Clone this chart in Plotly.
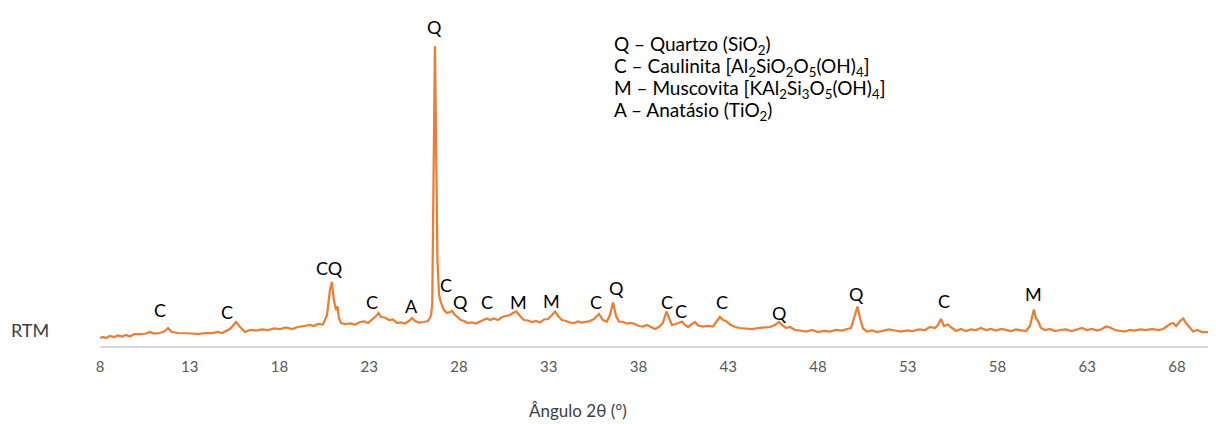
import plotly.graph_objects as go

# Diffraction pattern (2theta in degrees, relative intensity)
two_theta = [8.0, 8.17, 8.33, 8.56, 8.78, 9.0, 9.23, 9.45, 9.67, 9.9, 10.23, 10.56, 10.79, 11.0, 11.34,
             11.57, 11.79, 12.0, 12.35, 12.74, 13.13, 13.46, 13.85, 14.24, 14.57, 14.8, 15.02, 15.24,
             15.58, 15.8, 16.08, 16.36, 16.69, 17.03, 17.36, 17.7, 18.03, 18.36, 18.7, 19.03, 19.37,
             19.7, 19.92, 20.14, 20.42, 20.65, 20.81, 20.92, 21.03, 21.15, 21.23, 21.31, 21.43, 21.65,
             21.93, 22.21, 22.49, 22.71, 22.93, 23.15, 23.38, 23.52, 23.65, 23.88, 24.1, 24.32, 24.55,
             24.77, 24.99, 25.21, 25.38, 25.55, 25.77, 26.05, 26.27, 26.44, 26.51, 26.6, 26.66, 26.71,
             26.8, 26.89, 27.0, 27.16, 27.33, 27.5, 27.61, 27.78, 27.94, 28.11, 28.28, 28.5, 28.72,
             28.95, 29.17, 29.39, 29.56, 29.73, 29.95, 30.17, 30.4, 30.62, 30.84, 31.01, 31.2, 31.4,
             31.62, 31.84, 32.07, 32.29, 32.51, 32.74, 32.96, 33.18, 33.35, 33.52, 33.74, 33.96, 34.18,
             34.41, 34.63, 34.85, 35.07, 35.3, 35.52, 35.8, 36.02, 36.24, 36.41, 36.58, 36.75, 36.91,
             37.14, 37.36, 37.58, 37.8, 38.03, 38.25, 38.47, 38.7, 38.92, 39.14, 39.36, 39.56, 39.7,
             39.86, 40.09, 40.26, 40.42, 40.59, 40.76, 40.98, 41.15, 41.32, 41.59, 41.87, 42.15, 42.37,
             42.54, 42.71, 42.87, 43.1, 43.38, 43.65, 43.99, 44.32, 44.66, 44.99, 45.33, 45.6, 45.83,
             45.99, 46.22, 46.44, 46.72, 47.0, 47.33, 47.67, 48.0, 48.33, 48.67, 49.0, 49.34, 49.62,
             49.84, 50.01, 50.2, 50.34, 50.51, 50.73, 51.01, 51.29, 51.62, 51.96, 52.29, 52.62, 52.96,
             53.29, 53.63, 53.96, 54.24, 54.52, 54.69, 54.85, 55.02, 55.24, 55.47, 55.69, 55.97, 56.24,
             56.52, 56.8, 57.08, 57.36, 57.64, 57.92, 58.2, 58.47, 58.75, 59.03, 59.31, 59.59, 59.81,
             59.92, 60.03, 60.14, 60.26, 60.42, 60.65, 60.92, 61.2, 61.48, 61.81, 62.15, 62.48, 62.71,
             62.99, 63.27, 63.55, 63.82, 64.05, 64.27, 64.55, 64.83, 65.1, 65.38, 65.66, 65.94, 66.28,
             66.61, 66.95, 67.23, 67.45, 67.62, 67.79, 67.95, 68.18, 68.35, 68.5, 68.67, 68.9, 69.12,
             69.4, 69.73, 70.12]

intensity = [8, 9, 8, 10, 9, 10.5, 9.5, 11, 9.5, 12, 12, 12.5, 14, 12.5, 13,
             14.5, 18, 14, 13, 13, 12.5, 12, 13, 13, 14, 13, 15, 17,
             24, 19, 14, 16, 15.5, 16.5, 16, 17.5, 17, 18.5, 17, 19, 20,
             21, 20, 22, 21.5, 31, 56, 64, 46, 36, 39.5, 28, 23, 22,
             22.5, 21.5, 24, 24.5, 23, 26, 30, 33, 29, 28.5, 26, 26.5, 23,
             23.5, 22.5, 25, 28, 25, 23.5, 24, 25, 30, 41, 196, 300, 226,
             86, 51, 43, 36, 33, 34, 35, 31, 29, 26, 25, 23, 23.5,
             22.5, 24.5, 26, 27.5, 26, 27.5, 26, 29, 30, 31, 33, 34.5, 30,
             26, 25.5, 24, 25, 23.5, 26.5, 27, 31, 34.5, 30, 26, 25, 23.5,
             23, 24.5, 23.5, 24, 25, 27, 32, 26, 24.5, 31, 43.5, 30, 24.5,
             24, 22.5, 23, 22, 20, 19.5, 21, 19, 17, 19, 23, 34.5, 28,
             21, 22, 23, 24.5, 21, 19, 22, 24, 20.5, 19.5, 20, 19.5, 25,
             29, 26, 25, 21.5, 19, 18, 17.5, 17, 18, 18.5, 19, 21, 24,
             21, 18, 19, 16, 15.5, 14.5, 16, 14, 15, 14.5, 16, 15.5, 17,
             18, 28, 39.5, 28, 17.5, 14.5, 15.5, 14, 15, 16.5, 15.5, 14.5, 15.5,
             15, 16.5, 16, 19, 18, 21, 27, 20, 21.5, 18, 15, 17, 15,
             16.5, 16, 18, 16, 17, 15.5, 17, 16, 15, 16.5, 15.5, 15, 20,
             28, 36.5, 28, 25, 18, 16, 17, 15, 16, 16.5, 15, 17, 18,
             16, 17, 15.5, 17, 19.5, 18.5, 16, 15, 14.5, 16, 15.5, 16.5, 16,
             17, 16, 17, 20, 22, 23, 20, 25, 27.5, 23, 19, 14.5, 16,
             14, 14, 13.5]

# Phase labels above peaks
label_text = ["C", "C", "CQ", "C", "A", "Q", "C", "Q", "C", "M", "M", "C", "Q",
              "C", "C", "C", "Q", "Q", "C", "M"]
label_x = [11.34, 15.08, 20.81, 23.15, 25.33, 26.61, 27.28, 28.11, 29.56, 31.29, 33.18, 35.63, 36.75,
           39.59, 40.37, 42.65, 45.83, 50.12, 55.02, 60.03]
label_y = [36, 34, 78, 44, 40, 319, 61, 44, 44, 44, 45, 44, 58,
           44, 35, 44, 33, 52, 45, 52]

legend_lines = ["Q – Quartzo (SiO<sub>2</sub>)",
                "C – Caulinita [Al<sub>2</sub>SiO<sub>2</sub>O<sub>5</sub>(OH)<sub>4</sub>]",
                "M – Muscovita [KAl<sub>2</sub>Si<sub>3</sub>O<sub>5</sub>(OH)<sub>4</sub>]",
                "A – Anatásio (TiO<sub>2</sub>)"]

x_ticks = [8, 13, 18, 23, 28, 33, 38, 43, 48, 53, 58, 63, 68]

FONT = "Lato"

# The page body has an 8px margin, so the figure is 8px smaller than the window
W, H = 1208, 416
ML, MR, MT, MB = 92, 1, 8, 78
# plot area in screen pixels
PX0, PX1, PY0, PY1 = 100, 1215, 16, 346


def px(sx):
    return (sx - PX0) / (PX1 - PX0)


def py(sy):
    return 1 - (sy - PY0) / (PY1 - PY0)


fig = go.Figure()
fig.add_trace(go.Scatter(x=two_theta, y=intensity, mode="lines",
                         line=dict(color="#ED7D31", width=2.25), hoverinfo="skip",
                         showlegend=False))

for t, x, y in zip(label_text, label_x, label_y):
    fig.add_annotation(x=x, y=y, text=t, showarrow=False, xref="x", yref="y",
                       font=dict(family=FONT, size=18, color="#000000"))

for i, line in enumerate(legend_lines):
    fig.add_annotation(x=px(612), y=py(45 + 22 * i), xref="paper", yref="paper", text=line,
                       showarrow=False, xanchor="left", yanchor="middle",
                       font=dict(family=FONT, size=19, color="#000000"))

fig.add_annotation(x=px(30), y=py(330), xref="paper", yref="paper",
                   text="RTM", showarrow=False, xanchor="center", yanchor="middle",
                   font=dict(family=FONT, size=18, color="#404040"))
fig.add_annotation(x=px(578), y=py(410), xref="paper", yref="paper",
                   text="Ângulo 2θ (°)", showarrow=False, xanchor="center", yanchor="middle",
                   font=dict(family=FONT, size=17, color="#404040"))

fig.update_layout(
    width=W, height=H,
    margin=dict(l=ML, r=MR, t=MT, b=MB),
    paper_bgcolor="white", plot_bgcolor="white",
    xaxis=dict(range=[8, 70.12], tickvals=x_ticks, ticktext=[str(v) for v in x_ticks],
               showgrid=False, zeroline=False, showline=True, linecolor="#D9D9D9", linewidth=2,
               ticks="", ticklabelstandoff=6,
               tickfont=dict(family=FONT, size=15, color="#595959")),
    yaxis=dict(range=[0, 330], visible=False, fixedrange=True),
)

fig.write_html("out.html")
